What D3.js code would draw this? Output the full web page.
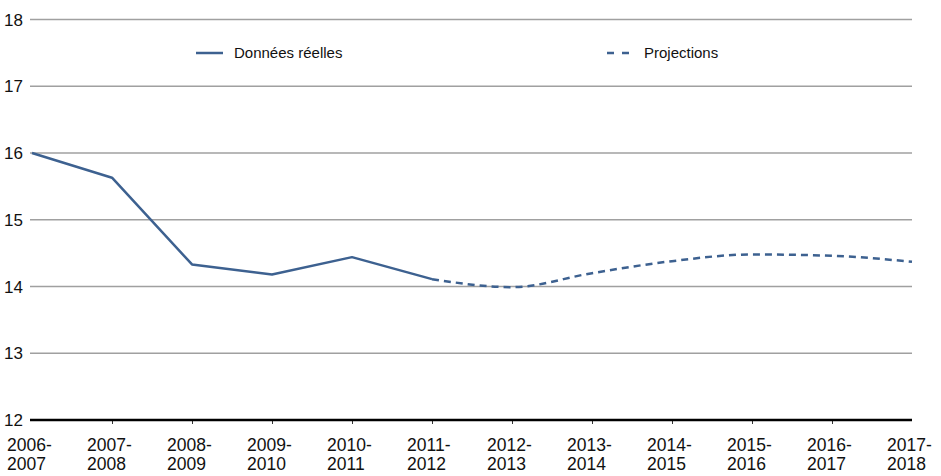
<!DOCTYPE html>
<html><head><meta charset="utf-8">
<script src="https://cdn.jsdelivr.net/npm/d3@7"></script>
<style>body{margin:0;background:#fff;} text{font-family:"Liberation Sans",Arial,sans-serif;fill:#111;}</style>
</head><body><svg id="c" width="941" height="476"></svg>
<script>
const categories = ["2006-2007","2007-2008","2008-2009","2009-2010","2010-2011","2011-2012","2012-2013","2013-2014","2014-2015","2015-2016","2016-2017","2017-2018"];
const actualValues = [16.0, 15.63, 14.33, 14.18, 14.44, 14.11, null, null, null, null, null, null];
const projectionValues = [null, null, null, null, null, 14.11, 13.99, 14.2, 14.38, 14.48, 14.46, 14.37];
const yTicks = [12, 13, 14, 15, 16, 17, 18];
const legendLabels = ["Données réelles", "Projections"];

const svg = d3.select("#c");
const color = "#3d6190";
const x = d3.scalePoint().domain(categories).range([32, 912]);
const y = d3.scaleLinear().domain([12, 18]).range([420, 19.5]);

// grid
svg.append("g").selectAll("line").data(yTicks.filter(t => t !== 12)).join("line")
  .attr("x1", 30).attr("x2", 912).attr("y1", d => y(d)).attr("y2", d => y(d))
  .attr("stroke", "#a0a0a0").attr("stroke-width", 1.5);
svg.append("g").selectAll("text").data(yTicks).join("text")
  .attr("x", 4).attr("y", d => y(d)).attr("dy", "0.36em")
  .attr("font-size", 17).text(d => d);

// baseline axis
const xAxis = d3.axisBottom(x).tickSize(4).tickFormat("");
const gx = svg.append("g").attr("transform", `translate(0,${y(12)})`).call(xAxis);
gx.select(".domain").remove();
gx.selectAll(".tick line").attr("stroke", "#333").attr("stroke-width", 1)
  .filter((d, i) => i === 0 || i === categories.length - 1).remove();
svg.append("line").attr("x1", 30).attr("x2", 912).attr("y1", y(12)).attr("y2", y(12))
  .attr("stroke", "#000").attr("stroke-width", 2.5);

// x labels
const lx = d => Math.max(5, x(d) - 25);
const lab = svg.append("g").selectAll("text").data(categories).join("text")
  .attr("font-size", 17.5).attr("x", lx);
lab.append("tspan").attr("y", 451).text(d => d.slice(0, 5));
lab.append("tspan").attr("x", lx).attr("y", 470).text(d => d.slice(5));

// lines
const lineA = d3.line().defined(d => d[1] != null).x(d => x(d[0])).y(d => y(d[1]));
svg.append("path").datum(categories.map((c, i) => [c, actualValues[i]]))
  .attr("d", lineA).attr("fill", "none").attr("stroke", color).attr("stroke-width", 2.5)
  .attr("stroke-linejoin", "round");
const lineP = d3.line().defined(d => d[1] != null).x(d => x(d[0])).y(d => y(d[1])).curve(d3.curveMonotoneX);
svg.append("path").datum(categories.map((c, i) => [c, projectionValues[i]]).filter(d => d[1] != null))
  .attr("d", lineP).attr("fill", "none").attr("stroke", color).attr("stroke-width", 2.5)
  .attr("stroke-dasharray", "7,5");

// legend
const lg = svg.append("g");
lg.append("line").attr("x1", 196).attr("x2", 223).attr("y1", 53).attr("y2", 53)
  .attr("stroke", color).attr("stroke-width", 2.5);
lg.append("text").attr("x", 234).attr("y", 53).attr("dy", "0.35em").attr("font-size", 15).text(legendLabels[0]);
lg.append("line").attr("x1", 607).attr("x2", 629).attr("y1", 53).attr("y2", 53)
  .attr("stroke", color).attr("stroke-width", 2.5).attr("stroke-dasharray", "7,8");
lg.append("text").attr("x", 644).attr("y", 53).attr("dy", "0.35em").attr("font-size", 15).text(legendLabels[1]);
</script></body></html>
